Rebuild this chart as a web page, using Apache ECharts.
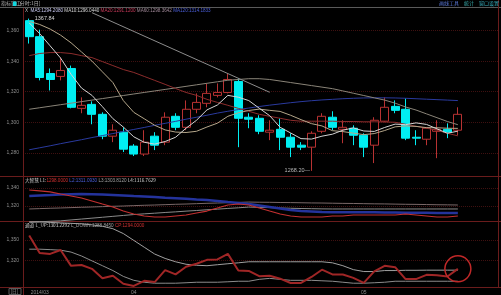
<!DOCTYPE html>
<html><head><meta charset="utf-8">
<script src="https://cdn.jsdelivr.net/npm/echarts@6/dist/echarts.min.js"></script>
<style>html,body{margin:0;padding:0;background:#000;}#c{width:501px;height:295px;}</style>
</head><body><div id="c"></div>
<script>
// ---- data ----
const categories = ['1','2','3','4','5','6','7','8','9','10','11','12','13','14','15','16','17','18','19','20','21','22','23','24','25','26','27','28','29','30','31','32','33','34','35','36','37','38','39','40','41','42','43','44'];
const xTickIdx = [1, 10, 32];
const xTickText = ['2014/03', '04', '05'];

const opens  = [1366.5,1356.0,1331.9,1330.0,1335.2,1309.1,1311.7,1305.2,1290.9,1293.5,1284.4,1279.2,1290.9,1287.0,1303.9,1296.7,1308.5,1312.4,1317.6,1319.5,1326.7,1303.3,1302.6,1293.5,1295.4,1290.2,1285.0,1283.7,1294.1,1303.3,1295.4,1296.1,1291.5,1285.0,1300.7,1310.4,1308.5,1290.2,1288.9,1294.1,1295.4,1294.8];
const closes = [1356.0,1329.3,1328.0,1333.9,1309.8,1311.1,1305.2,1290.9,1294.8,1282.4,1279.2,1287.0,1285.0,1303.3,1296.7,1308.5,1313.0,1318.9,1319.5,1328.0,1302.6,1302.0,1294.1,1294.8,1290.2,1283.7,1283.7,1292.8,1303.9,1296.7,1296.7,1291.5,1283.7,1301.3,1309.8,1307.8,1289.6,1289.6,1296.1,1295.4,1293.5,1305.2];
const lows   = [1351.5,1327.4,1320.8,1327.4,1309.1,1305.9,1298.7,1288.9,1287.0,1280.5,1277.9,1277.9,1281.8,1285.0,1294.8,1294.8,1305.9,1309.8,1316.3,1318.9,1283.7,1296.1,1292.2,1288.3,1281.8,1277.2,1281.8,1268.2,1292.8,1294.8,1286.3,1285.0,1277.2,1273.3,1300.0,1305.9,1288.3,1285.0,1285.0,1276.5,1289.6,1291.5];
const highs  = [1367.84,1360.6,1335.2,1342.3,1337.1,1316.3,1313.7,1306.5,1298.7,1296.7,1285.7,1294.8,1293.5,1306.5,1305.9,1314.3,1318.9,1325.4,1325.4,1331.9,1328.7,1305.9,1304.6,1301.3,1302.6,1292.8,1287.0,1294.1,1305.9,1307.2,1301.3,1298.0,1292.8,1303.3,1316.3,1314.3,1315.6,1294.8,1296.7,1301.3,1299.3,1309.8];

const ma5   = [1365,1358,1350,1342,1331.4,1322.4,1317.6,1310.2,1302.4,1296.9,1290.5,1286.9,1285.7,1287.4,1290.2,1296.1,1301.3,1308.1,1311.3,1317.6,1316.4,1314.2,1309.2,1304.3,1296.7,1293,1289.3,1289,1290.9,1292.2,1294.8,1296.3,1294.3,1294,1296.6,1298.8,1298.4,1299.6,1298.6,1295.7,1292.8,1294.2];
const ma10  = [1366,1364,1361,1357,1352,1346,1340,1333,1326,1314.2,1306.5,1302.3,1298,1295,1293.6,1293.3,1294.1,1296.9,1299.4,1303.9,1306.2,1307.7,1308.6,1307.8,1307.1,1304.6,1301.7,1299.1,1297.6,1294.5,1293.9,1292.9,1291.9,1292.6,1294.6,1297,1297.6,1297.3,1296.5,1296.4,1296.1,1296.0];
const ma20  = [1343.6,1345,1345.6,1345.6,1345,1343.6,1342.3,1339.7,1337.1,1334.5,1332.6,1330,1327.4,1324.8,1322.1,1319.5,1317.6,1315,1313,1311.1,1309.1,1307.2,1305.2,1303.9,1302.6,1301.3,1300.7,1300.7,1300.7,1300.7,1300.5,1300.5,1300.3,1300.3,1300.2,1300,1298.7,1297.4,1296.1,1294.8,1292.8,1291.1];
const ma60  = [1308.5,1309.5,1310.5,1311.5,1312.5,1313.5,1314.5,1315.5,1316.5,1317.5,1318.5,1319.5,1320.5,1321.5,1322.5,1323.5,1324.5,1325.5,1326.5,1327.5,1328,1328.5,1328.5,1328,1327,1326,1325,1324,1323,1322,1320.5,1319,1317.5,1316,1314.5,1312.5,1310,1308,1305.5,1303,1300.5,1298.4];
const ma120 = [1282,1283.3,1284.6,1286,1287.3,1288.6,1290,1291.3,1292.6,1294,1295.3,1296.6,1298,1299.3,1300.6,1302,1303.3,1304.6,1306,1307.2,1308.3,1309.3,1310.3,1311.2,1312,1312.8,1313.5,1314.1,1314.6,1315,1315.4,1315.7,1315.9,1316,1316,1315.9,1315.7,1315.4,1315.1,1314.8,1314.5,1314.2];
const trendIdx = [6, 23];
const trendVal = [1371.7, 1319.6];

// panel 2 (大智慧)
const dzhL1 = [1337.8,1336.7,1335.6,1333.3,1331.1,1328.9,1325.6,1322.2,1318.9,1314.4,1311.1,1308.9,1307.8,1307.8,1308.9,1310,1312.2,1314.4,1317.8,1321.1,1322.2,1321.1,1317.8,1314.4,1311.1,1308.9,1307.8,1307.8,1307.8,1308.9,1308.9,1310,1310,1310,1310,1310,1311.1,1310,1308.9,1307.8,1307.8,1308.9];
const dzhL2 = [1302,1302.5,1303,1303.5,1304.5,1305.5,1306.5,1307.5,1308.5,1309.5,1310.5,1311.3,1312,1312.8,1313.5,1314.3,1315,1315.8,1316.5,1317.3,1318,1318.8,1318.5,1318.2,1317.8,1317.5,1317.2,1317,1316.8,1316.7,1316.7,1316.7,1316.7,1316.7,1316.7,1316.7,1316.7,1316.7,1316.7,1316.7,1316.7,1316.7];
const dzhL3 = [1331.1,1331.7,1332.2,1332.8,1333.1,1333.3,1333.1,1332.7,1332.2,1331.7,1331.1,1330.6,1330,1329.3,1328.7,1328,1327.3,1326.7,1325.6,1324.4,1323.3,1322.2,1320.6,1318.9,1317.2,1315.6,1314.4,1313.9,1313.3,1313.1,1313.1,1313.1,1313.1,1313,1312.9,1312.8,1312.6,1312.5,1312.4,1312.3,1312.2,1312.2];
const dzhL4 = [1316.7,1317.1,1317.5,1317.8,1318.2,1318.6,1318.9,1319.3,1319.7,1320,1320.4,1320.8,1321.1,1321.5,1321.9,1322.2,1322.6,1323,1323.3,1323.7,1324,1324.4,1324.2,1324.1,1323.9,1323.8,1323.6,1323.4,1323.3,1323.1,1322.9,1322.8,1322.6,1322.4,1322.3,1322.1,1321.9,1321.8,1321.6,1321.4,1321.3,1321.1];

// panel 3 (通道)
const lUp   = [1376.8,1376.8,1376,1375.3,1374.6,1373.8,1372.3,1370.1,1366.4,1359,1348.6,1338.2,1327.8,1321.1,1316,1312.2,1310.7,1310,1311.5,1313,1314.4,1316,1316,1316,1316,1316,1316,1316,1316,1314.4,1310,1304,1301.1,1301.1,1302.6,1302.6,1303,1303,1303.2,1303.2,1303.2,1303.2];
const lDown = [1335.2,1335.2,1334.5,1333.7,1330.8,1324.8,1317.4,1310,1302.6,1293.7,1287.7,1284.8,1283.3,1283.3,1283.3,1284,1284.8,1284.8,1284.8,1285.5,1286.3,1286.3,1289.2,1290.7,1289.2,1287.7,1287.7,1287.7,1287,1286.3,1284.8,1283.3,1283.3,1284,1284.8,1286.3,1286.3,1286.3,1286.3,1286.3,1286.3,1286.3];

// ---- chart ----
const RED = '#6a1c1c';
const GRIDC = '#3f1010';
const LBL = '#8c8c8c';
const FONT = 'Liberation Sans, DejaVu Sans, sans-serif';
const candleData = opens.map((o, i) => [o, closes[i], lows[i], highs[i]]);
const trendData = trendIdx.map((ix, k) => [categories[ix], trendVal[k]]);

function dataX(g, showLabels) {
  return {
    type: 'category', gridIndex: g, data: categories, boundaryGap: true,
    axisLine: {show: false}, axisTick: {show: false}, splitLine: {show: false},
    axisLabel: showLabels ? {
      show: true, fontSize: 5, color: '#8a8a8a', margin: 2, fontFamily: FONT,
      interval: (i) => xTickIdx.indexOf(i) >= 0,
      formatter: (v, i) => { const k = xTickIdx.indexOf(i); return k >= 0 ? xTickText[k] : ''; }
    } : {show: false}
  };
}
function frameX(g) {
  return {type: 'value', gridIndex: g, min: 0, max: 1, show: false};
}
function dataY(g, mn, mx) {
  return {type: 'value', gridIndex: g, min: mn, max: mx, show: false, splitLine: {show: false}};
}
function frameY(g, mn, mx, iv) {
  return {
    type: 'value', gridIndex: g, min: mn, max: mx, interval: iv,
    axisLine: {show: false}, axisTick: {show: false},
    axisLabel: {show: true, fontSize: 5, color: LBL, margin: 4, fontFamily: FONT, showMinLabel: false, showMaxLabel: false},
    splitLine: {show: true, showMinLine: false, showMaxLine: false, lineStyle: {color: GRIDC, width: 1, type: [1, 1]}}
  };
}
function line(name, xi, data, color, width, extra) {
  return Object.assign({
    name, type: 'line', xAxisIndex: xi, yAxisIndex: xi, data, symbol: 'none',
    lineStyle: {color, width}, silent: true, z: 3
  }, extra || {});
}

const option = {
  backgroundColor: '#000',
  animation: false,
  grid: [
    {left: 24, width: 460, top: -0.8, height: 184.2},
    {left: 24, width: 460, top: 170, height: 54},
    {left: 24, width: 460, top: 219.8, height: 70.1},
    {left: 23, right: 3, top: -0.8, height: 184.2},
    {left: 23, right: 3, top: 170, height: 54},
    {left: 23, right: 3, top: 219.8, height: 60.66}
  ],
  xAxis: [dataX(0, false), dataX(1, false), dataX(2, true), frameX(3), frameX(4), frameX(5)],
  yAxis: [dataY(0, 1260, 1380), dataY(1, 1300, 1360), dataY(2, 1276, 1380),
          frameY(3, 1260, 1380, 20), frameY(4, 1300, 1360, 20), frameY(5, 1290, 1380, 30)],
  series: [
    {
      type: 'candlestick', xAxisIndex: 0, yAxisIndex: 0, data: candleData, barWidth: 8.5, z: 2,
      itemStyle: {color: '#000', color0: '#00eef2', borderColor: '#b83232', borderColor0: '#00eef2', borderWidth: 1},
      markPoint: {
        symbol: 'circle', symbolSize: 1, itemStyle: {color: 'rgba(0,0,0,0)'},
        data: [
          {type: 'max', valueDim: 'highest', label: {show: true, position: 'right', distance: 5, color: '#d8d8d8', fontSize: 5.5, fontFamily: FONT, formatter: p => p.value.toFixed(2)}},
          {type: 'min', valueDim: 'lowest', label: {show: true, position: 'left', distance: 1, color: '#b8b8b8', fontSize: 5.5, fontFamily: FONT, formatter: p => p.value.toFixed(2) + '—'}}
        ]
      }
    },
    line('MA120', 0, ma120, '#2a3a9e', 1),
    line('MA60', 0, ma60, '#8a8478', 1),
    line('MA20', 0, ma20, '#8c2c2c', 1),
    line('MA10', 0, ma10, '#b4a68a', 1),
    line('MA5', 0, ma5, '#d4d4d4', 1),
    line('trend', 0, trendData, '#8c8c8c', 1),
    line('L4', 1, dzhL4, '#7a6868', 1),
    line('L2', 1, dzhL2, '#8a8a8a', 1),
    line('L3', 1, dzhL3, '#24339c', 2.5),
    line('L1', 1, dzhL1, '#c43030', 1.2),
    line('L_UP', 2, lUp, '#a0a0a0', 1),
    line('L_DOWN', 2, lDown, '#8c8c8c', 1),
    line('CP', 2, closes, '#a02626', 2, {
      markPoint: {
        symbol: 'circle', symbolSize: 26, label: {show: false},
        itemStyle: {color: 'rgba(0,0,0,0)', borderColor: '#c02828', borderWidth: 1.5},
        data: [{coord: [categories[closes.length - 1], closes[closes.length - 1]]}]
      }
    })
  ],
  graphic: [
    // frame
    {type: 'line', z: 1, shape: {x1: 0, y1: 7.5, x2: 501, y2: 7.5}, style: {stroke: '#5a5a5a', lineWidth: 1}},
    {type: 'line', z: 1, shape: {x1: 0, y1: 176.5, x2: 501, y2: 176.5}, style: {stroke: RED, lineWidth: 1}},
    {type: 'line', z: 1, shape: {x1: 0, y1: 221.5, x2: 501, y2: 221.5}, style: {stroke: RED, lineWidth: 1}},
    {type: 'line', z: 1, shape: {x1: 0, y1: 287.5, x2: 501, y2: 287.5}, style: {stroke: RED, lineWidth: 1}},
    {type: 'line', z: 1, shape: {x1: 23.5, y1: 8, x2: 23.5, y2: 295}, style: {stroke: RED, lineWidth: 1}},
    {type: 'line', z: 1, shape: {x1: 498.5, y1: 0, x2: 498.5, y2: 288}, style: {stroke: RED, lineWidth: 1}},
    // top bar
    {type: 'text', z: 10, style: {x: 1, y: 1, text: '指标窗口', fill: '#b0b0b0', fontSize: 5, fontFamily: 'Noto Sans CJK SC'}},
    {type: 'rect', z: 10, shape: {x: 13, y: 1.5, width: 3.5, height: 4.5}, style: {fill: '#10d8e0'}},
    {type: 'text', z: 10, style: {x: 18, y: 1, text: '[分时:1日]', fill: '#b0b0b0', fontSize: 5, fontFamily: 'Noto Sans CJK SC'}},
    {type: 'text', z: 10, style: {x: 439, y: 1, text: '画线工具', fill: '#5a78d8', fontSize: 5, fontFamily: 'Noto Sans CJK SC'}},
    {type: 'text', z: 10, style: {x: 464, y: 1, text: '统计', fill: '#38b0b0', fontSize: 5, fontFamily: 'Noto Sans CJK SC'}},
    {type: 'text', z: 10, style: {x: 479, y: 1, text: '窗口设置', fill: '#38b0c0', fontSize: 5, fontFamily: 'Noto Sans CJK SC'}},
    // headers
    {type: 'text', z: 10, style: {x: 25, y: 8.5, fontSize: 4.6, fontFamily: FONT,
      text: '{x|X}  {a|MA5:1294.2080} {b|MA10:1296.0440} {c|MA20:1291.1200} {d|MA60:1298.3642} {e|MA120:1314.1833}',
      rich: {x: {fill: '#c0c0c0', fontSize: 4.6}, a: {fill: '#c8c8f0', fontSize: 4.6}, b: {fill: '#d8d8d8', fontSize: 4.6}, c: {fill: '#c83a5a', fontSize: 4.6}, d: {fill: '#a08898', fontSize: 4.6}, e: {fill: '#4a5ed8', fontSize: 4.6}}}},
    {type: 'text', z: 10, style: {x: 25, y: 178, fontSize: 4.6, fontFamily: FONT,
      text: '{w|大智慧} {w|L1:}{r|1298.0000} {b|L2:1311.0930} {g|L3:1303.8120} {w|L4:1316.7629}',
      rich: {w: {fill: '#d0d0d0', fontSize: 4.6, fontFamily: 'Noto Sans CJK SC'}, r: {fill: '#d03030', fontSize: 4.6}, b: {fill: '#4a5ed8', fontSize: 4.6}, g: {fill: '#a0a0a0', fontSize: 4.6}}}},
    {type: 'text', z: 10, style: {x: 25, y: 223, fontSize: 4.6, fontFamily: FONT,
      text: '{w|通道} {w|L_UP:1303.2292} {g|L_DOWN:1288.8450} {r|CP:1294.0000}',
      rich: {w: {fill: '#d0d0d0', fontSize: 4.6, fontFamily: 'Noto Sans CJK SC'}, g: {fill: '#a0a0a0', fontSize: 4.6}, r: {fill: '#d03030', fontSize: 4.6}}}},
    // bottom-left period box
    {type: 'rect', z: 10, shape: {x: 9, y: 288.5, width: 12, height: 6}, style: {fill: 'none', stroke: '#5a5a5a', lineWidth: 1}},
    {type: 'text', z: 10, style: {x: 10.5, y: 289, text: '[日]', fill: '#a0a0a0', fontSize: 4.6, fontFamily: 'Noto Sans CJK SC'}}
  ]
};
echarts.init(document.getElementById('c')).setOption(option);
</script>
</body></html>
